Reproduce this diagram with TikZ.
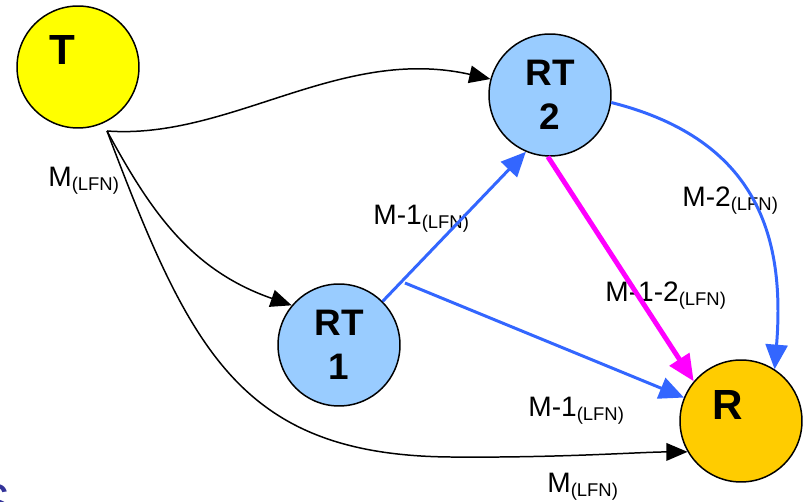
\documentclass[tikz,border=0pt]{standalone}
\usepackage{fontspec}
\setmainfont{Liberation Sans}
\usetikzlibrary{arrows.meta}
\definecolor{tyellow}{RGB}{255, 255, 0}
\definecolor{relayblue}{RGB}{153, 204, 255}
\definecolor{rorange}{RGB}{255, 204, 0}
\definecolor{linkblue}{RGB}{51, 102, 255}
\definecolor{linkmagenta}{RGB}{255, 0, 255}
\definecolor{titleblue}{RGB}{51, 51, 153}

% subscript after each message label
\newcommand{\lfn}{\raisebox{-2pt}{\fontsize{10.5}{12}\selectfont(LFN)}}

\begin{document}
\begin{tikzpicture}[x=0.02cm, y=-0.02cm,
    station/.style={circle, draw, line width=0.85pt, minimum size=2.44cm, inner sep=0pt},
    bigletter/.style={inner sep=0pt, font=\fontsize{24}{26}\selectfont\bfseries},
    relaytext/.style={align=center, font=\fontsize{21}{25}\selectfont\bfseries},
    msg/.style={anchor=base west, inner sep=0pt, font=\fontsize{16}{18}\selectfont},
    plain/.style={draw=black, line width=0.85pt, -{Triangle[length=12pt, width=10pt]}},
    direct/.style={draw=linkblue, line width=1.7pt, -{Triangle[length=14pt, width=12.5pt]}},
    joint/.style={draw=linkmagenta, line width=2.8pt, -{Triangle[length=15pt, width=13pt]}}]
        \useasboundingbox (0,0) rectangle (808,502);

        % Stations
        \node[station, fill=tyellow] (T) at (78,67) {};
        \node[bigletter] (Tname) at (62,50) {T};
        \node[station, fill=relayblue, relaytext] (RT2) at (550,95) {RT\\2};
        \node[station, fill=relayblue, relaytext] (RT1) at (339,345) {RT\\1};
        \node[station, fill=rorange] (R) at (741,421) {};
        \node[bigletter] (Rname) at (728,405) {R};

        % Cut-off letter in the corner
        \node[anchor=north east, inner sep=0pt, text=titleblue, font=\fontsize{28}{30}\selectfont] (cutS) at (11,484) {S};

        % Message labels
        \node[msg] (mT) at (48,187) {M\lfn};
        \node[msg] (m1up) at (373,225) {M-1\lfn};
        \node[msg] (m2) at (682,207) {M-2\lfn};
        \node[msg] (m12) at (605,302) {M-1-2\lfn};
        \node[msg] (m1low) at (528,417) {M-1\lfn};
        \node[msg] (mR) at (547,493) {M\lfn};

        % Source broadcasts
        \coordinate (src) at (107,131);
        \draw[plain] (src) .. controls (230,140) and (340,45) .. (RT2.165);
        \draw[plain] (src) .. controls (150,210) and (190,270) .. (RT1.140);
        \draw[plain] (src) .. controls (190,350) and (240,455) .. (450,457)
            .. controls (560,458) and (640,452) .. (R.210);

        % Relayed messages
        \draw[direct] (RT1.45) -- (RT2.247);
        \draw[direct] ([shift={(66,-62)}]RT1.center) -- (R);
        \draw[direct] (RT2.353) .. controls (760,140) and (785,240) .. (R.57);
        \draw[joint] (RT2.268) -- (R.140);
    \end{tikzpicture}
\end{document}
